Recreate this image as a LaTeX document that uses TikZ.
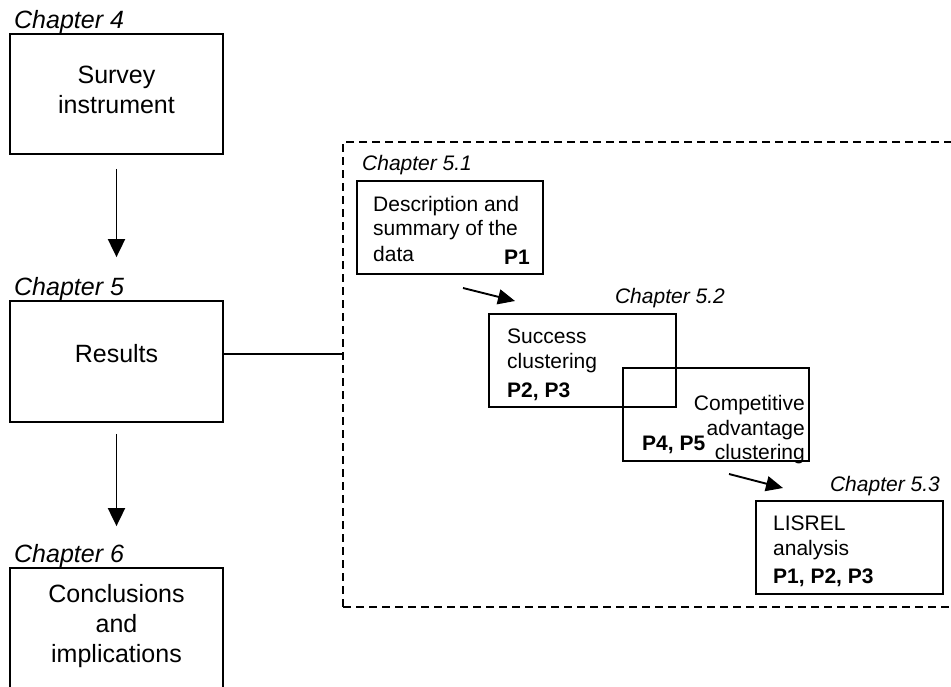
\documentclass[tikz,border=0pt]{standalone}
\usepackage{fontspec}
\setmainfont{Liberation Sans}
\usetikzlibrary{arrows.meta,calc}
\begin{document}
\begin{tikzpicture}[x=1pt,y=-1pt,
  box/.style={draw,line width=1.8pt,inner sep=0pt},
  dbox/.style={draw,line width=1.6pt,inner sep=0pt,dash pattern=on 8pt off 5pt},
  arr/.style={line width=1.9pt,-{Triangle[length=18pt,width=17pt]}},
  sarr/.style={line width=1.9pt,-{Triangle[length=17pt,width=15pt]}},
  conn/.style={line width=1.8pt},
  main/.style={inner sep=0pt,anchor=base,font=\fontsize{25}{30}\selectfont},
  chap/.style={inner sep=0pt,anchor=base west,font=\itshape\fontsize{25}{30}\selectfont},
  subchap/.style={inner sep=0pt,font=\itshape\fontsize{21}{25}\selectfont},
  txt/.style={inner sep=0pt,font=\fontsize{21}{25}\selectfont},
  btxt/.style={inner sep=0pt,font=\bfseries\fontsize{21}{25}\selectfont}]
\clip (0,0) rectangle (951,686);
% left column
\node[box,minimum width=213pt,minimum height=120pt] (s) at (116.5,94) {};
\node[box,minimum width=213pt,minimum height=121pt] (r) at (116.5,361.5) {};
\node[box,minimum width=213pt,minimum height=132pt] (c) at (116.5,634) {};
\node[chap] (l4) at (14,28) {Chapter 4};
\node[chap] (l5) at (14,295) {Chapter 5};
\node[chap] (l6) at (14,562) {Chapter 6};
\node[main] (s1) at (116.5,83) {Survey};
\node[main] (s2) at (116.5,113) {instrument};
\node[main] (r1) at (116.5,362) {Results};
\node[main] (c1) at (116.5,602) {Conclusions};
\node[main] (c2) at (116.5,632) {and};
\node[main] (c3) at (116.5,662) {implications};
\draw[arr] ($(s.south)+(0,14)$) -- ($(r.north)+(0,-43)$);
\draw[arr] ($(r.south)+(0,11)$) -- ($(c.north)+(0,-41)$);
% dashed frame
\node[dbox,minimum width=657pt,minimum height=465pt] (frame) at (671.5,374.5) {};
\coordinate (rj) at ($(r.east)+(0,-7.5)$);
\draw[conn] (rj) -- (frame.west |- rj);
% sub boxes
\node[box,minimum width=186pt,minimum height=93pt] (d1) at (450,227.5) {};
\node[box,minimum width=187pt,minimum height=93pt] (d2) at (582.5,360.5) {};
\node[box,minimum width=186pt,minimum height=93pt] (d3) at (716,414.5) {};
\node[box,minimum width=187pt,minimum height=93pt] (d4) at (849.5,547.5) {};
\node[subchap,anchor=base west] (l51) at (362,170) {Chapter 5.1};
\node[subchap,anchor=base east] (l52) at (725,303) {Chapter 5.2};
\node[subchap,anchor=base east] (l53) at (940,491) {Chapter 5.3};
\node[txt,anchor=base west] (t11) at (373,211) {Description and};
\node[txt,anchor=base west] (t12) at (373,235) {summary of the};
\node[txt,anchor=base west] (t13) at (373,261) {data};
\node[btxt,anchor=base east] (t14) at (530,264) {P1};
\node[txt,anchor=base west] (t21) at (507,343) {Success};
\node[txt,anchor=base west] (t22) at (507,368) {clustering};
\node[btxt,anchor=base west] (t23) at (507,397) {P2, P3};
\node[txt,anchor=base east] (t31) at (805,410) {Competitive};
\node[txt,anchor=base east] (t32) at (805,435) {advantage};
\node[txt,anchor=base east] (t33) at (805,459) {clustering};
\node[btxt,anchor=base west] (t34) at (642,450) {P4, P5};
\node[txt,anchor=base west] (t41) at (773,530) {LISREL};
\node[txt,anchor=base west] (t42) at (773,555) {analysis};
\node[btxt,anchor=base west] (t43) at (773,583) {P1, P2, P3};
\coordinate (a1s) at (463,288);
\coordinate (a1e) at (515,301);
\coordinate (a2s) at (729,474);
\coordinate (a2e) at (783,488);
\draw[sarr] (a1s) -- (a1e);
\draw[sarr] (a2s) -- (a2e);
\end{tikzpicture}
\end{document}
